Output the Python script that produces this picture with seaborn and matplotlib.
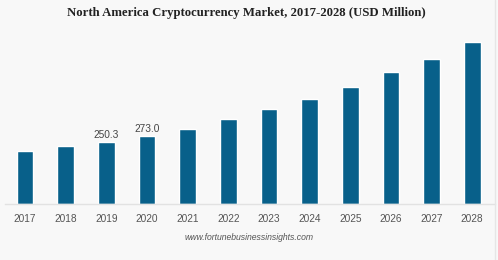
import matplotlib
matplotlib.use("Agg")
import matplotlib.pyplot as plt
import seaborn as sns
import pandas as pd
from matplotlib.lines import Line2D

years = ["2017", "2018", "2019", "2020", "2021", "2022", "2023", "2024", "2025", "2026", "2027", "2028"]
values = [215, 235, 250.3, 273.0, 301, 342, 382, 422, 473, 533, 584, 655]
labeled = {"2019": "250.3", "2020": "273.0"}

title = "North America Cryptocurrency Market, 2017-2028 (USD Million)"
source = "www.fortunebusinessinsights.com"

sns.set_theme(style="white")
plt.rcParams["font.family"] = ["Liberation Sans", "DejaVu Sans"]

bg = "#f8f8f8"
bar_color = "#08608a"

df = pd.DataFrame({"year": years, "value": values})

fig = plt.figure(figsize=(4.98, 2.60), dpi=100, facecolor=bg)
ax = fig.add_axes([5 / 498, 56 / 260, 490 / 498, 164 / 260])
ax.set_facecolor(bg)

sns.barplot(data=df, x="year", y="value", color=bar_color, width=0.41,
            saturation=1, ax=ax)

ax.set_xlim(-0.49, 11.56)
ax.set_ylim(0, 662)

for s in ["top", "right", "left"]:
    ax.spines[s].set_visible(False)
ax.spines["bottom"].set_color("#e2e2e2")
ax.spines["bottom"].set_linewidth(1.0)

ax.set_yticks([])
ax.set_xlabel("")
ax.set_ylabel("")
ax.tick_params(axis="x", length=0, pad=7, labelsize=7.3, labelcolor="#555555")

for i, (y, v) in enumerate(zip(years, values)):
    if y in labeled:
        ax.text(i, v + 8, labeled[y], ha="center", va="bottom",
                fontsize=7.3, color="#444444")

fig.text(246 / 498, 1 - 13 / 260, title, ha="center", va="center",
         fontsize=9.2, fontweight="bold", color="#222222",
         family=["Liberation Serif", "DejaVu Serif"])

fig.text(249 / 498, 1 - 237 / 260, source, ha="center", va="center",
         fontsize=6.2, style="italic", color="#555555")

fig.add_artist(Line2D([494.5 / 498, 494.5 / 498], [0, 1], transform=fig.transFigure,
                      color="#e6e6e6", linewidth=1))

fig.savefig("out.png", dpi=100, facecolor=bg)
